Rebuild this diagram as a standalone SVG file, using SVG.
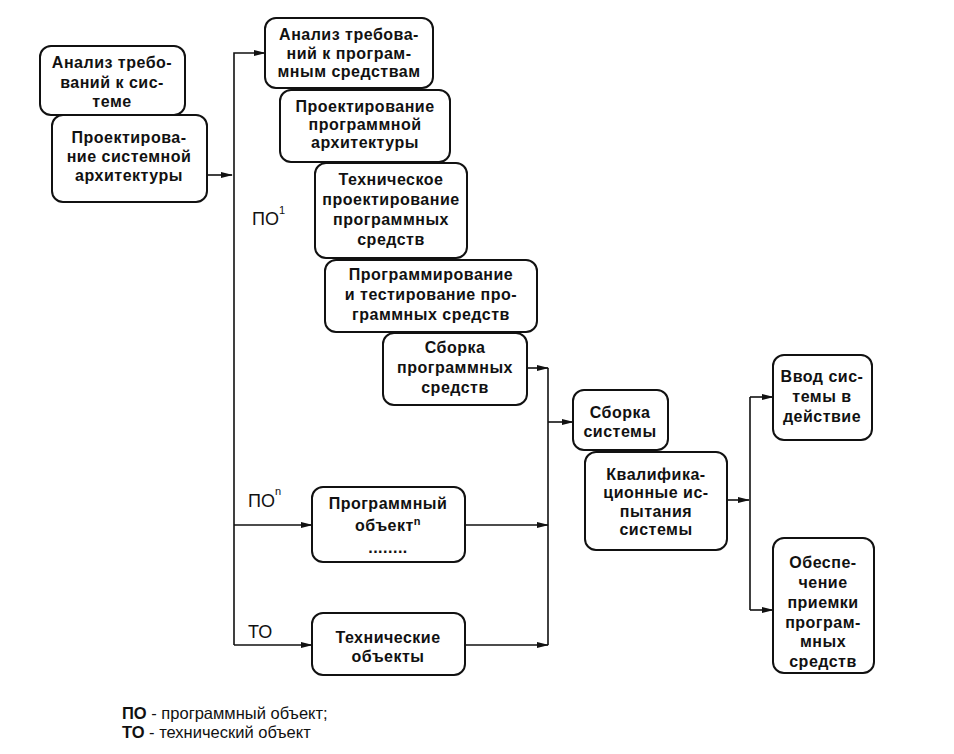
<svg xmlns="http://www.w3.org/2000/svg" width="954" height="754" viewBox="0 0 954 754">
<style>
.box{fill:#fff;stroke:#111;stroke-width:2}
.t{font-family:"Liberation Sans",Arial,sans-serif;font-size:16px;font-weight:bold;letter-spacing:0.5px;fill:#111;text-anchor:middle}
.lbl{font-family:"Liberation Sans",Arial,sans-serif;font-size:18px;fill:#111}
.sup{font-size:11px}
.leg{font-family:"Liberation Sans",Arial,sans-serif;font-size:16.5px;fill:#111}
.ln{fill:none;stroke:#111;stroke-width:1.6}
</style>
<defs>
<marker id="ah" markerWidth="12" markerHeight="8" refX="11" refY="4" orient="auto" markerUnits="userSpaceOnUse">
<path d="M0,1 L12,4 L0,7 Z" fill="#111"/>
</marker>
</defs>
<rect width="954" height="754" fill="#fff"/>
<g id="connectors">
<path class="ln" d="M207,175 H232" marker-end="url(#ah)"/>
<path class="ln" d="M234,645 V53 H265" marker-end="url(#ah)"/>
<path class="ln" d="M234,525 H312" marker-end="url(#ah)"/>
<path class="ln" d="M234,645 H312" marker-end="url(#ah)"/>
<path class="ln" d="M527,368 H548" marker-end="url(#ah)"/>
<path class="ln" d="M465,525 H548" marker-end="url(#ah)"/>
<path class="ln" d="M465,645 H548" marker-end="url(#ah)"/>
<path class="ln" d="M548,368 V645"/>
<path class="ln" d="M548,422 H573" marker-end="url(#ah)"/>
<path class="ln" d="M727,500 H749" marker-end="url(#ah)"/>
<path class="ln" d="M750,397 V610"/>
<path class="ln" d="M750,397 H773" marker-end="url(#ah)"/>
<path class="ln" d="M750,610 H773" marker-end="url(#ah)"/>
</g>
<g id="n1"><rect class="box" x="40" y="46" width="145" height="69" rx="11"/>
<text class="t" x="112" y="68">Анализ требо-</text><text class="t" x="112" y="88">ваний к сис-</text><text class="t" x="112" y="107">теме</text></g>
<g id="n2"><rect class="box" x="52" y="115" width="155" height="87" rx="11"/>
<text class="t" x="129" y="143">Проектирова-</text><text class="t" x="129" y="162">ние системной</text><text class="t" x="129" y="181">архитектуры</text></g>
<g id="n3"><rect class="box" x="265" y="18" width="168" height="70" rx="11"/>
<text class="t" x="349" y="40">Анализ требова-</text><text class="t" x="349" y="59">ний к програм-</text><text class="t" x="349" y="77">мным средствам</text></g>
<g id="n4"><rect class="box" x="280" y="90" width="170" height="72" rx="11"/>
<text class="t" x="365" y="112">Проектирование</text><text class="t" x="365" y="130">программной</text><text class="t" x="365" y="148">архитектуры</text></g>
<g id="n5"><rect class="box" x="315" y="163" width="152" height="95" rx="11"/>
<text class="t" x="391" y="185">Техническое</text><text class="t" x="391" y="205">проектирование</text><text class="t" x="391" y="225">программных</text><text class="t" x="391" y="245">средств</text></g>
<g id="n6"><rect class="box" x="325" y="260" width="212" height="72" rx="11"/>
<text class="t" x="431" y="280">Программирование</text><text class="t" x="431" y="300">и тестирование про-</text><text class="t" x="431" y="320">граммных средств</text></g>
<g id="n7"><rect class="box" x="383" y="333" width="144" height="72" rx="11"/>
<text class="t" x="455" y="353">Сборка</text><text class="t" x="455" y="373">программных</text><text class="t" x="455" y="393">средств</text></g>
<g id="n8"><rect class="box" x="312" y="487" width="153" height="75" rx="11"/>
<text class="t" x="388" y="509">Программный</text><text class="t" x="388" y="531">объект<tspan class="sup" dy="-6">n</tspan></text><text class="t" x="388" y="553">........</text></g>
<g id="n9"><rect class="box" x="312" y="613" width="153" height="62" rx="11"/>
<text class="t" x="388" y="643">Технические</text><text class="t" x="388" y="662">объекты</text></g>
<g id="n10"><rect class="box" x="573" y="390" width="95" height="60" rx="11"/>
<text class="t" x="620" y="418">Сборка</text><text class="t" x="620" y="437">системы</text></g>
<g id="n11"><rect class="box" x="585" y="452" width="142" height="98" rx="11"/>
<text class="t" x="656" y="480">Квалифика-</text><text class="t" x="656" y="498">ционные ис-</text><text class="t" x="656" y="517">пытания</text><text class="t" x="656" y="535">системы</text></g>
<g id="n12"><rect class="box" x="773" y="355" width="99" height="85" rx="11"/>
<text class="t" x="822" y="382">Ввод сис-</text><text class="t" x="822" y="402">темы в</text><text class="t" x="822" y="422">действие</text></g>
<g id="n13"><rect class="box" x="773" y="538" width="101" height="135" rx="11"/>
<text class="t" x="823" y="568">Обеспе-</text><text class="t" x="823" y="588">чение</text><text class="t" x="823" y="608">приемки</text><text class="t" x="823" y="628">програм-</text><text class="t" x="823" y="647">мных</text><text class="t" x="823" y="667">средств</text></g>
<g id="labels">
<text class="lbl" x="252" y="225">ПО<tspan class="sup" dy="-11">1</tspan></text>
<text class="lbl" x="248" y="507">ПО<tspan class="sup" dy="-12">n</tspan></text>
<text class="lbl" x="248" y="638">ТО</text>
<text class="leg" x="122" y="719"><tspan font-weight="bold">ПО</tspan> - программный объект;</text>
<text class="leg" x="122" y="738"><tspan font-weight="bold">ТО</tspan> - технический объект</text>
</g>
</svg>
